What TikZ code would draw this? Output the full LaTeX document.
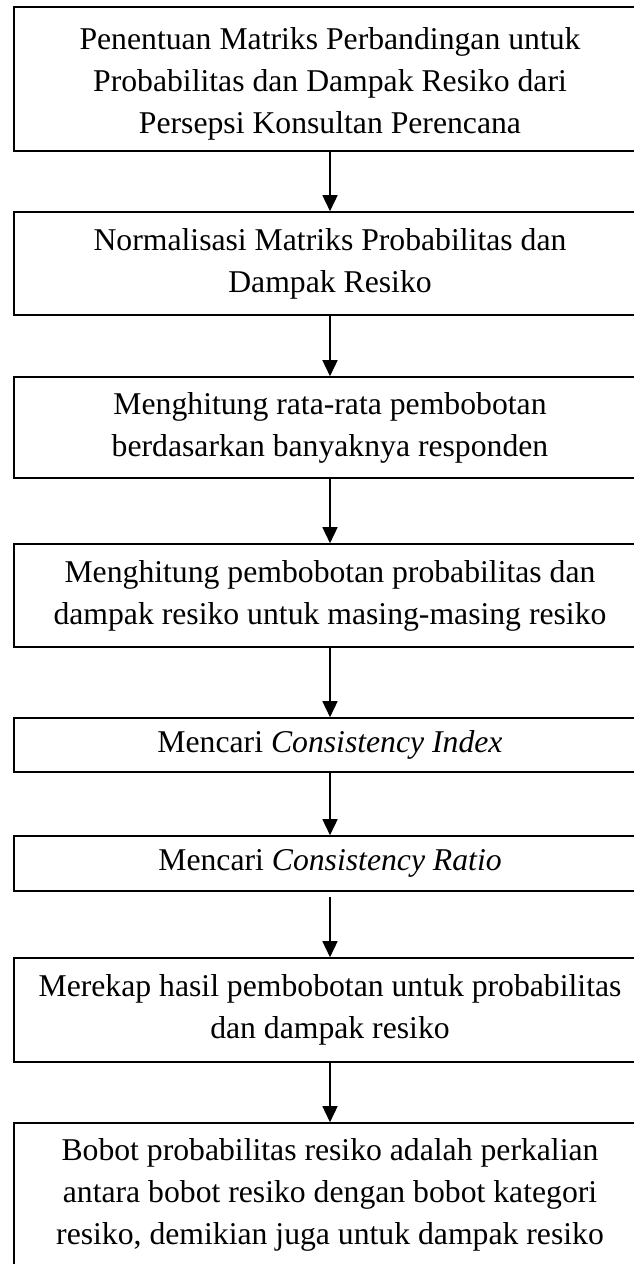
\documentclass[tikz,border=0pt]{standalone}
\usepackage{fontspec}
\setmainfont{Liberation Serif}
\usetikzlibrary{arrows.meta}
\begin{document}
\begin{tikzpicture}[x=1pt,y=-1pt,
  txt/.style={inner sep=0pt, align=center, font=\fontsize{31.7}{42}\selectfont},
  box/.style={txt, draw, line width=1.6pt, minimum width=632pt},
  flow/.style={line width=1.5pt, -{Triangle[length=16pt,width=15pt]}}]
\useasboundingbox (0,0) rectangle (634,1264);
\clip (0,0) rectangle (634,1264);
\node[box, minimum height=144pt] (b1) at (330,79) {};
\node[txt] (b1t) at (330,84) {Penentuan Matriks Perbandingan untuk\\Probabilitas dan Dampak Resiko dari\\Persepsi Konsultan Perencana};
\node[box, minimum height=103pt] (b2) at (330,263.5) {Normalisasi Matriks Probabilitas dan\\Dampak Resiko};
\node[box, minimum height=101pt] (b3) at (330,427.5) {Menghitung rata-rata pembobotan\\berdasarkan banyaknya responden};
\node[box, minimum height=103pt] (b4) at (330,595.5) {Menghitung pembobotan probabilitas dan\\dampak resiko untuk masing-masing resiko};
\node[box, minimum height=54pt] (b5) at (330,745) {Mencari \textit{Consistency Index}};
\node[box, minimum height=55pt] (b6) at (330,863.5) {Mencari \textit{Consistency Ratio}};
\node[box, minimum height=104pt] (b7) at (330,1010) {Merekap hasil pembobotan untuk probabilitas\\dan dampak resiko};
\node[box, minimum height=144pt] (b8) at (330,1195) {Bobot probabilitas resiko adalah perkalian\\antara bobot resiko dengan bobot kategori\\resiko, demikian juga untuk dampak resiko};
\draw[flow] (b1.south) -- (b2.north);
\draw[flow] (b2.south) -- (b3.north);
\draw[flow] (b3.south) -- (b4.north);
\draw[flow] (b4.south) -- (b5.north);
\draw[flow] (b5.south) -- (b6.north);
\draw[flow, shorten <=5pt] (b6.south) -- (b7.north);
\draw[flow] (b7.south) -- (b8.north);
\end{tikzpicture}
\end{document}
